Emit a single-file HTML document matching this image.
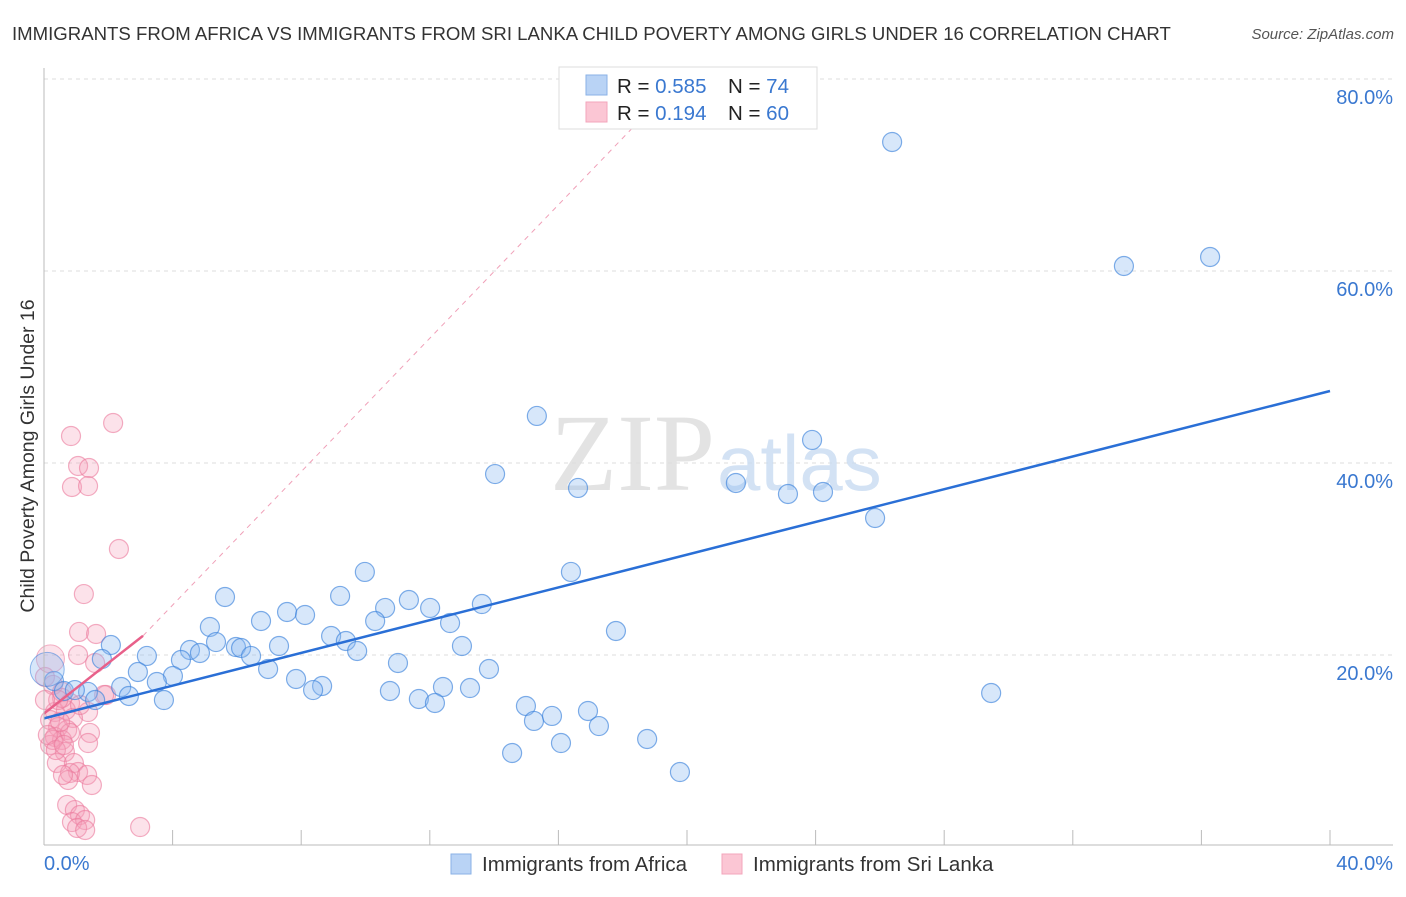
<!DOCTYPE html>
<html><head><meta charset="utf-8"><style>
body{margin:0;background:#fff;font-family:"Liberation Sans",sans-serif;}
</style></head><body>
<svg id="c" width="1406" height="892" xmlns="http://www.w3.org/2000/svg">
<text x="12" y="40" font-size="18.6" fill="#333">IMMIGRANTS FROM AFRICA VS IMMIGRANTS FROM SRI LANKA CHILD POVERTY AMONG GIRLS UNDER 16 CORRELATION CHART</text>
<text x="1394" y="39" font-size="15" fill="#555" font-style="italic" text-anchor="end">Source: ZipAtlas.com</text>
<text transform="translate(34,456) rotate(-90)" font-size="19.5" fill="#333" text-anchor="middle">Child Poverty Among Girls Under 16</text>
<g id="grid"></g>
<text x="715" y="490" font-size="110" fill="#ddd" font-family="Liberation Serif" text-anchor="end" opacity="0.8">ZIP</text>
<text x="717" y="490" font-size="78" fill="#c9dcf2" opacity="0.8">atlas</text>
<g id="pts"></g>
<g id="lines"></g>
<line x1="44" y1="68" x2="44" y2="845" stroke="#bbb"/>
<line x1="44" y1="845" x2="1393" y2="845" stroke="#bbb"/>
<g id="ticks"></g>
<text x="44" y="870" font-size="20" fill="#3a78d0">0.0%</text>
<text x="1393" y="870" font-size="20" fill="#3a78d0" text-anchor="end">40.0%</text>
<g>
<rect x="559" y="67" width="258" height="62" fill="#fff" stroke="#ddd"/>
<rect x="586" y="75" width="21" height="20" fill="#b9d3f5" stroke="#8ab2e6"/>
<rect x="586" y="102" width="21" height="20" fill="#fbc6d4" stroke="#f3a5bb"/>
<text x="617" y="93" font-size="20.5" fill="#222">R = <tspan fill="#3a78d0">0.585</tspan><tspan x="728">N = </tspan><tspan fill="#3a78d0">74</tspan></text>
<text x="617" y="120" font-size="20.5" fill="#222">R = <tspan fill="#3a78d0"> 0.194</tspan><tspan x="728">N = </tspan><tspan fill="#3a78d0">60</tspan></text>
</g>
<g>
<rect x="451" y="854" width="20" height="20" fill="#b9d3f5" stroke="#8ab2e6"/>
<text x="482" y="871" font-size="20.5" fill="#333">Immigrants from Africa</text>
<rect x="722" y="854" width="20" height="20" fill="#fbc6d4" stroke="#f3a5bb"/>
<text x="753" y="871" font-size="20.5" fill="#333">Immigrants from Sri Lanka</text>
</g>
</svg>
<script>
const yTicks=[20,40,60,80];
const yTickLabels=["20.0%","40.0%","60.0%","80.0%"];
const xTicks=[0,4,8,12,16,20,24,28,32,36,40];
const africaPx=[[892,142],[1124,266],[1210,257],[537,416],[812,440],[495,474],[578,488],[736,483],[788,494],[823,492],[875,518],[365,572],[571,572],[225,597],[340,596],[409,600],[482,604],[287,612],[305,615],[385,608],[430,608],[261,621],[375,621],[210,627],[450,623],[616,631],[111,645],[331,636],[346,641],[190,650],[216,642],[236,647],[241,648],[279,646],[200,653],[357,651],[462,646],[147,656],[102,659],[181,660],[251,656],[398,663],[489,669],[138,672],[268,669],[173,676],[157,682],[296,679],[322,686],[313,690],[121,687],[443,687],[470,688],[390,691],[991,693],[54,681],[64,691],[88,692],[75,690],[129,696],[164,700],[95,700],[419,699],[435,703],[526,706],[588,711],[534,721],[552,716],[599,726],[647,739],[561,743],[512,753],[680,772]];
const lankaPx=[[113,423],[71,436],[78,466],[89,468],[72,487],[88,486],[119,549],[84,594],[79,632],[96,634],[78,655],[95,663],[45,677],[53,685],[62,692],[106,695],[70,703],[88,712],[55,712],[66,710],[50,720],[73,718],[58,727],[67,730],[55,737],[62,740],[70,733],[90,733],[50,745],[88,743],[65,752],[57,763],[74,763],[78,772],[70,773],[87,775],[92,785],[68,780],[63,775],[67,805],[75,810],[80,815],[72,822],[85,820],[77,828],[85,830],[140,827],[104,695],[62,698],[80,705],[53,740],[58,700],[60,722],[48,735],[56,750],[64,745],[45,700]];
const africaX=africaPx.map(p=>+((p[0]-44)/32.15).toFixed(2));
const africaY=africaPx.map(p=>+((847-p[1])/9.6).toFixed(2));
const lankaX=lankaPx.map(p=>+((p[0]-44)/32.15).toFixed(2));
const lankaY=lankaPx.map(p=>+((847-p[1])/9.6).toFixed(2));
const africaBig=[[0.1,18.5]];
const lankaBig=[[0.2,19.6]];
const africaTrend=[[0,13.4],[40,47.5]];
const lankaTrend=[[0,13.9],[3.08,22.0]];
const lankaDashed=[[3.08,22.0],[18.85,76.8]];
const X=v=>44+v*32.15, Y=v=>847-v*9.6;
const NS="http://www.w3.org/2000/svg";
function mk(t,a,p){const e=document.createElementNS(NS,t);for(const k in a)e.setAttribute(k,a[k]);p.appendChild(e);return e;}
const grid=document.getElementById('grid');
yTicks.forEach((v,i)=>{
 const l=mk('line',{x1:44,x2:1393,y1:Y(v),y2:Y(v),stroke:'#ddd','stroke-dasharray':'4,4'},grid);
 
 
 const t=mk('text',{x:1393,y:Y(v)+25,'font-size':20,fill:'#3a78d0','text-anchor':'end'},grid);
 t.textContent=yTickLabels[i];
 
 
});
const ticks=document.getElementById('ticks');
xTicks.forEach(v=>{
 const l=mk('line',{x1:X(v),x2:X(v),y1:830,y2:845,stroke:'#bbb'},ticks);
 
 
});
const pts=document.getElementById('pts');
lankaX.forEach((x,i)=>{
 const c=mk('circle',{cx:X(x),cy:Y(lankaY[i]),r:9.5,fill:'rgba(246,160,185,0.3)',stroke:'rgba(235,120,155,0.6)','stroke-width':1.2},pts);
 
 
});
lankaBig.forEach(p=>{
 const c=mk('circle',{cx:X(p[0]),cy:Y(p[1]),r:14,fill:'rgba(246,160,185,0.3)',stroke:'rgba(235,120,155,0.55)'},pts);
 
 
});
africaX.forEach((x,i)=>{
 const c=mk('circle',{cx:X(x),cy:Y(africaY[i]),r:9.5,fill:'rgba(140,185,240,0.35)',stroke:'rgba(60,130,220,0.65)','stroke-width':1.2},pts);
 
 
});
africaBig.forEach(p=>{
 const c=mk('circle',{cx:X(p[0]),cy:Y(p[1]),r:17,fill:'rgba(140,185,240,0.35)',stroke:'rgba(60,130,220,0.55)'},pts);
 
 
});
const lines=document.getElementById('lines');
const d=mk('line',{x1:X(lankaDashed[0][0]),y1:Y(lankaDashed[0][1]),x2:X(lankaDashed[1][0]),y2:Y(lankaDashed[1][1]),stroke:'#f0a0b8','stroke-dasharray':'5,5','stroke-width':1},lines);


const b=mk('line',{x1:X(africaTrend[0][0]),y1:Y(africaTrend[0][1]),x2:X(africaTrend[1][0]),y2:Y(africaTrend[1][1]),stroke:'#2a6fd6','stroke-width':2.5},lines);


const p=mk('line',{x1:X(lankaTrend[0][0]),y1:Y(lankaTrend[0][1]),x2:X(lankaTrend[1][0]),y2:Y(lankaTrend[1][1]),stroke:'#e8608a','stroke-width':2.5},lines);


</script>
</body></html>
